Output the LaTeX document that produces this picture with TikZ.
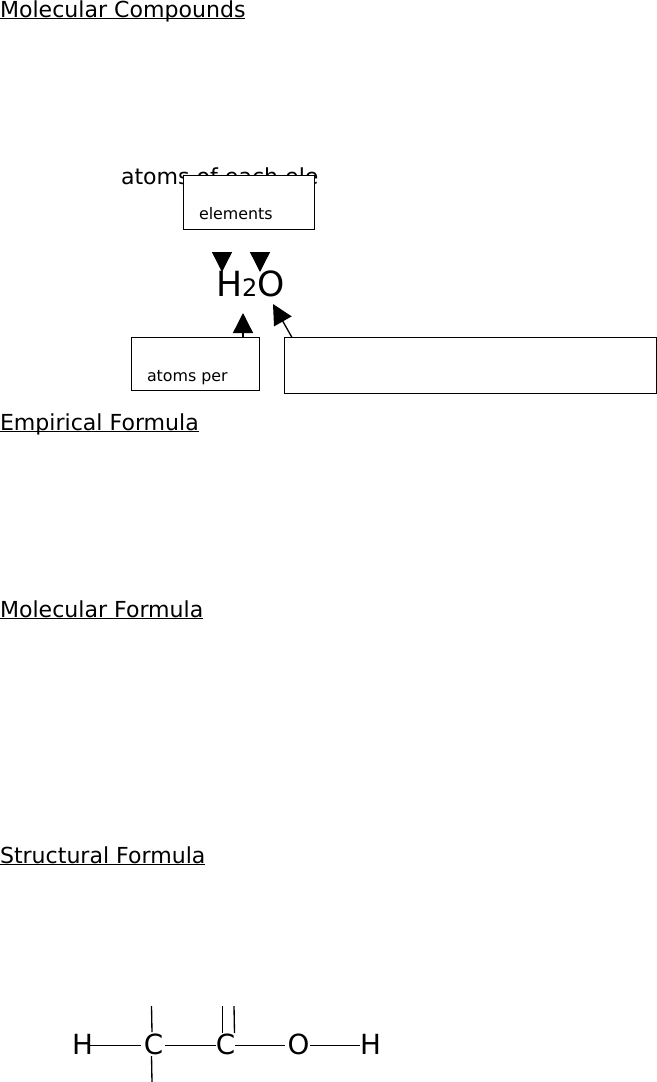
\documentclass[tikz,border=0pt]{standalone}
\usepackage{fontspec}
\setmainfont{DejaVu Sans}
\usetikzlibrary{arrows.meta}
\newcommand{\ulhead}[1]{\setbox0=\hbox{#1}\rlap{\rule[-1.6pt]{\wd0}{0.75pt}}\box0}
\tikzset{
  x=0.75pt,y=-0.75pt,
  lab/.style={inner sep=0pt,outer sep=0pt,anchor=base west},
  head/.style={lab,font=\fontsize{16.55}{20}\selectfont},
  small/.style={lab,font=\fontsize{11.9}{14}\selectfont},
  chem/.style={inner sep=0pt,outer sep=0pt,anchor=base,font=\fontsize{20.8}{24}\selectfont},
  boxx/.style={draw=black,fill=white,line width=0.75pt,inner sep=0pt,outer sep=0pt,anchor=north west},
  tip/.style={line width=1pt,-{Triangle[length=15pt,width=15pt]}},
  bond/.style={line width=1pt}
}
\begin{document}
\begin{tikzpicture}
\useasboundingbox (0,0) rectangle (657,1082);
\fill[white] (0,0) rectangle (657,1082);
\node[head] (t1) at (0,17) {\ulhead{Molecular Compounds}};
\node[head] (t2) at (0,430) {\ulhead{Empirical Formula}};
\node[head] (t3) at (0,617) {\ulhead{Molecular Formula}};
\node[head] (t4) at (0,863) {\ulhead{Structural Formula}};
\node[head] (hidden) at (121,184) {atoms of each ele};
\node[boxx,minimum width=131pt*0.75,minimum height=54pt*0.75] (b1) at (183.5,175.5) {};
\node[small] (l1) at (199,219) {elements};
\node[boxx,minimum width=128pt*0.75,minimum height=53pt*0.75] (b2) at (131.5,337.5) {};
\node[small] (l2) at (147,381) {atoms per};
\node[boxx,minimum width=372pt*0.75,minimum height=56pt*0.75] (b3) at (284.5,337.5) {};
\node[lab,font=\fontsize{26}{30}\selectfont] (f) at (216,296) {H\raisebox{-0.5pt}{\fontsize{18}{20}\selectfont 2}O};
\coordinate (a1s) at (222,252);
\coordinate (a1e) at (222,272);
\coordinate (a2s) at (260,252);
\coordinate (a2e) at (260,272);
\coordinate (a3e) at (243,313);
\coordinate (a4s) at (292,337.5);
\coordinate (a4e) at (273,304);
\draw[tip] (a1s) -- (a1e);
\draw[tip] (a2s) -- (a2e);
\draw[tip] (b2.north -| a3e) -- (a3e);
\draw[tip] (a4s) -- (a4e);
\node[chem] (h1) at (82.5,1054) {H};
\node[chem] (c1) at (153.5,1054) {C};
\node[chem] (c2) at (225.5,1054) {C};
\node[chem] (o) at (298.5,1054) {O};
\node[chem] (h2) at (370.5,1054) {H};
\coordinate (u1) at (151.5,1006);
\coordinate (u1e) at (152,1032);
\coordinate (d1) at (151.5,1056);
\coordinate (d1e) at (152,1082);
\coordinate (u2) at (222.5,1006);
\coordinate (u2e) at (222.5,1033);
\coordinate (u3) at (234,1006);
\coordinate (u3e) at (234.5,1033);
\draw[bond] (90,1045.5) -- (141,1045.5);
\draw[bond] (165,1045.5) -- (216,1045.5);
\draw[bond] (235,1045.5) -- (285,1045.5);
\draw[bond] (310,1045.5) -- (360,1045.5);
\draw[bond] (u1) -- (u1e);
\draw[bond] (d1) -- (d1e);
\draw[bond] (u2) -- (u2e);
\draw[bond] (u3) -- (u3e);
\end{tikzpicture}
\end{document}
